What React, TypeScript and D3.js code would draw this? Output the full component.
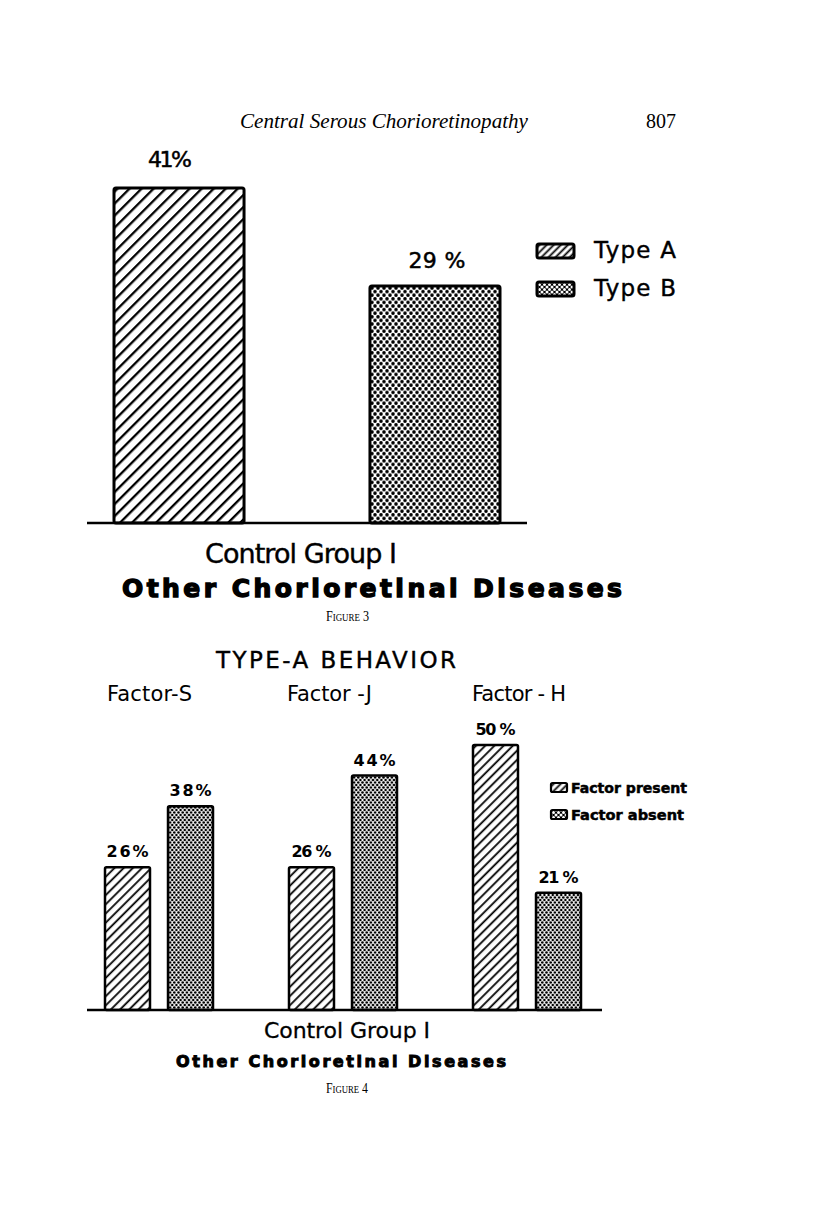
import React from "react";
import * as d3 from "d3";

// figure 3: control group, type A vs type B
const types = ["Type A", "Type B"];
const typeValues = [41, 29];
const typeLabels = ["41%", "29 %"];

// figure 4: type-A behaviour factors
const factors = ["Factor-S", "Factor -J", "Factor - H"];
const presence = ["Factor present", "Factor absent"];
const factorPresent = [26, 26, 50];
const factorAbsent = [38, 44, 21];
const factorLabels = [
  ["26%", "38%"],
  ["26 %", "44%"],
  ["50 %", "21 %"],
];

const sans = "'DejaVu Sans', sans-serif";
const heavy = "'DejaVu Sans', sans-serif";
const serif = "'Liberation Serif', 'DejaVu Serif', serif";

export default function App() {
  // fig 3 scales
  const x3 = d3.scaleBand<string>().domain(types).range([114, 500]).paddingInner(0.492);
  const y3 = d3.scaleLinear().domain([0, 41]).range([523, 188]);
  const base3 = 523;

  // fig 4 scales
  const xg = d3.scaleBand<string>().domain(factors).range([105, 581]).paddingInner(0.413);
  const xi = d3.scaleBand<string>().domain(presence).range([0, xg.bandwidth()]).paddingInner(0.286);
  const y4 = d3.scaleLinear().domain([-2, 50]).range([1010, 745]);
  const base4 = 1010;

  const fig4 = factors.map((f, i) => ({ f, vals: [factorPresent[i], factorAbsent[i]], labels: factorLabels[i] }));

  return (
    <svg width={816} height={1229} style={{ position: "absolute", left: 0, top: 0, background: "#fff" }}>
      <defs>
        <pattern id="hatch3" width={8.5} height={8.5} patternUnits="userSpaceOnUse" patternTransform="rotate(-45)">
          <rect width={8.5} height={8.5} fill="#fff" />
          <line x1={0} y1={4} x2={8.5} y2={4} stroke="#000" strokeWidth={2.3} />
        </pattern>
        <pattern id="hatch4" width={6.5} height={6.5} patternUnits="userSpaceOnUse" patternTransform="rotate(-45)">
          <rect width={6.5} height={6.5} fill="#fff" />
          <line x1={0} y1={3} x2={6.5} y2={3} stroke="#000" strokeWidth={1.8} />
        </pattern>
        <pattern id="hatchL" width={5} height={5} patternUnits="userSpaceOnUse" patternTransform="rotate(-45)">
          <rect width={5} height={5} fill="#fff" />
          <line x1={0} y1={2.5} x2={5} y2={2.5} stroke="#000" strokeWidth={1.8} />
        </pattern>
        <pattern id="dots3" width={6} height={7.2} patternUnits="userSpaceOnUse">
          <rect width={6} height={7.2} fill="#fff" />
          {[[0, 0], [6, 0], [0, 7.2], [6, 7.2], [3, 3.6]].map(([cx, cy], k) => (
            <circle key={k} cx={cx} cy={cy} r={1.8} fill="#000" />
          ))}
        </pattern>
        <pattern id="dots4" width={4.2} height={5} patternUnits="userSpaceOnUse">
          <rect width={4.2} height={5} fill="#fff" />
          {[[0, 0], [4.2, 0], [0, 5], [4.2, 5], [2.1, 2.5]].map(([cx, cy], k) => (
            <circle key={k} cx={cx} cy={cy} r={1.3} fill="#000" />
          ))}
        </pattern>
        <pattern id="dotsL" width={5} height={5} patternUnits="userSpaceOnUse">
          <rect width={5} height={5} fill="#000" />
          {[[0, 0], [5, 0], [0, 5], [5, 5], [2.5, 2.5]].map(([cx, cy], k) => (
            <circle key={k} cx={cx} cy={cy} r={1.5} fill="#fff" />
          ))}
        </pattern>
      </defs>

      {/* page header */}
      <text x={240} y={128} fontFamily={serif} fontStyle="italic" fontSize={20} textLength={288} lengthAdjust="spacingAndGlyphs">
        Central Serous Chorioretinopathy
      </text>
      <text x={646} y={128} fontFamily={serif} fontSize={20}>807</text>

      {/* FIGURE 3 */}
      {types.map((t, i) => (
        <rect key={t} x={x3(t)} y={y3(typeValues[i])} width={x3.bandwidth()} height={base3 - y3(typeValues[i])}
          fill={i === 0 ? "url(#hatch3)" : "url(#dots3)"} stroke="#000" strokeWidth={3} rx={2} />
      ))}
      {types.map((t, i) => (
        <text key={t} x={x3(t)! + x3.bandwidth() / 2 + (i === 0 ? -9 : 2)} y={y3(typeValues[i]) - (i === 0 ? 21 : 18)}
          textAnchor="middle" fontFamily={sans} fontSize={22} stroke="#000" strokeWidth={0.5}
          textLength={i === 0 ? 44 : 57} lengthAdjust="spacing">
          {typeLabels[i]}
        </text>
      ))}
      <line x1={87} x2={527} y1={base3} y2={base3} stroke="#000" strokeWidth={2.5} />

      {types.map((t, i) => (
        <g key={t} transform={`translate(537,${244 + i * 38})`}>
          <rect width={37} height={14} rx={2} fill={i === 0 ? "url(#hatchL)" : "url(#dotsL)"} stroke="#000" strokeWidth={3} />
          <text x={57} y={14} fontFamily={sans} fontSize={23} stroke="#000" strokeWidth={0.4} textLength={82}>{t}</text>
        </g>
      ))}

      <text x={205} y={563} fontFamily={sans} fontSize={27} stroke="#000" strokeWidth={0.4} textLength={192}>Control Group I</text>
      <text x={122} y={597} fontFamily={heavy} fontWeight="bold" fontSize={25} stroke="#000" strokeWidth={1.4}
        textLength={500} lengthAdjust="spacing">
        Other Chorioretinal Diseases
      </text>
      <text x={326} y={621} fontFamily={serif} fontSize={15} fontVariant="small-caps" textLength={43} lengthAdjust="spacingAndGlyphs">
        Figure 3
      </text>

      {/* FIGURE 4 */}
      <text x={216} y={668} fontFamily={sans} fontSize={23} stroke="#000" strokeWidth={0.4} textLength={240}>TYPE-A BEHAVIOR</text>
      {factors.map((f, i) => (
        <text key={f} x={[107, 287, 472][i]} y={701} fontFamily={sans} fontSize={21} textLength={[85, 85, 94][i]} lengthAdjust="spacing">
          {f}
        </text>
      ))}

      {fig4.map((g) => (
        <g key={g.f} transform={`translate(${xg(g.f)},0)`}>
          {presence.map((p, j) => (
            <g key={p}>
              <rect x={xi(p)} y={y4(g.vals[j])} width={xi.bandwidth()} height={base4 - y4(g.vals[j])}
                fill={j === 0 ? "url(#hatch4)" : "url(#dots4)"} stroke="#000" strokeWidth={2.5} rx={1.5} />
              <text x={xi(p)! + xi.bandwidth() / 2} y={y4(g.vals[j]) - 10} textAnchor="middle" fontFamily={sans}
                fontWeight="bold" fontSize={16} textLength={g.labels[j].length > 3 ? 40 : 42} lengthAdjust="spacing">
                {g.labels[j]}
              </text>
            </g>
          ))}
        </g>
      ))}
      <line x1={87} x2={602} y1={base4} y2={base4} stroke="#000" strokeWidth={2.5} />

      {presence.map((p, i) => (
        <g key={p} transform={`translate(551,${783 + i * 27})`}>
          <rect width={16} height={9} rx={1.5} fill={i === 0 ? "url(#hatchL)" : "url(#dotsL)"} stroke="#000" strokeWidth={2.2} />
          <text x={20} y={9.5} fontFamily={heavy} fontWeight="bold" fontSize={14} stroke="#000" strokeWidth={0.5}
            textLength={i === 0 ? 116 : 113} lengthAdjust="spacingAndGlyphs">
            {p}
          </text>
        </g>
      ))}

      <text x={264} y={1038} fontFamily={sans} fontSize={22} stroke="#000" strokeWidth={0.3} textLength={166}>Control Group I</text>
      <text x={176} y={1067} fontFamily={heavy} fontWeight="bold" fontSize={16} stroke="#000" strokeWidth={1}
        textLength={330} lengthAdjust="spacing">
        Other Chorioretinal Diseases
      </text>
      <text x={326} y={1093} fontFamily={serif} fontSize={15} fontVariant="small-caps" textLength={42} lengthAdjust="spacingAndGlyphs">
        Figure 4
      </text>
    </svg>
  );
}
